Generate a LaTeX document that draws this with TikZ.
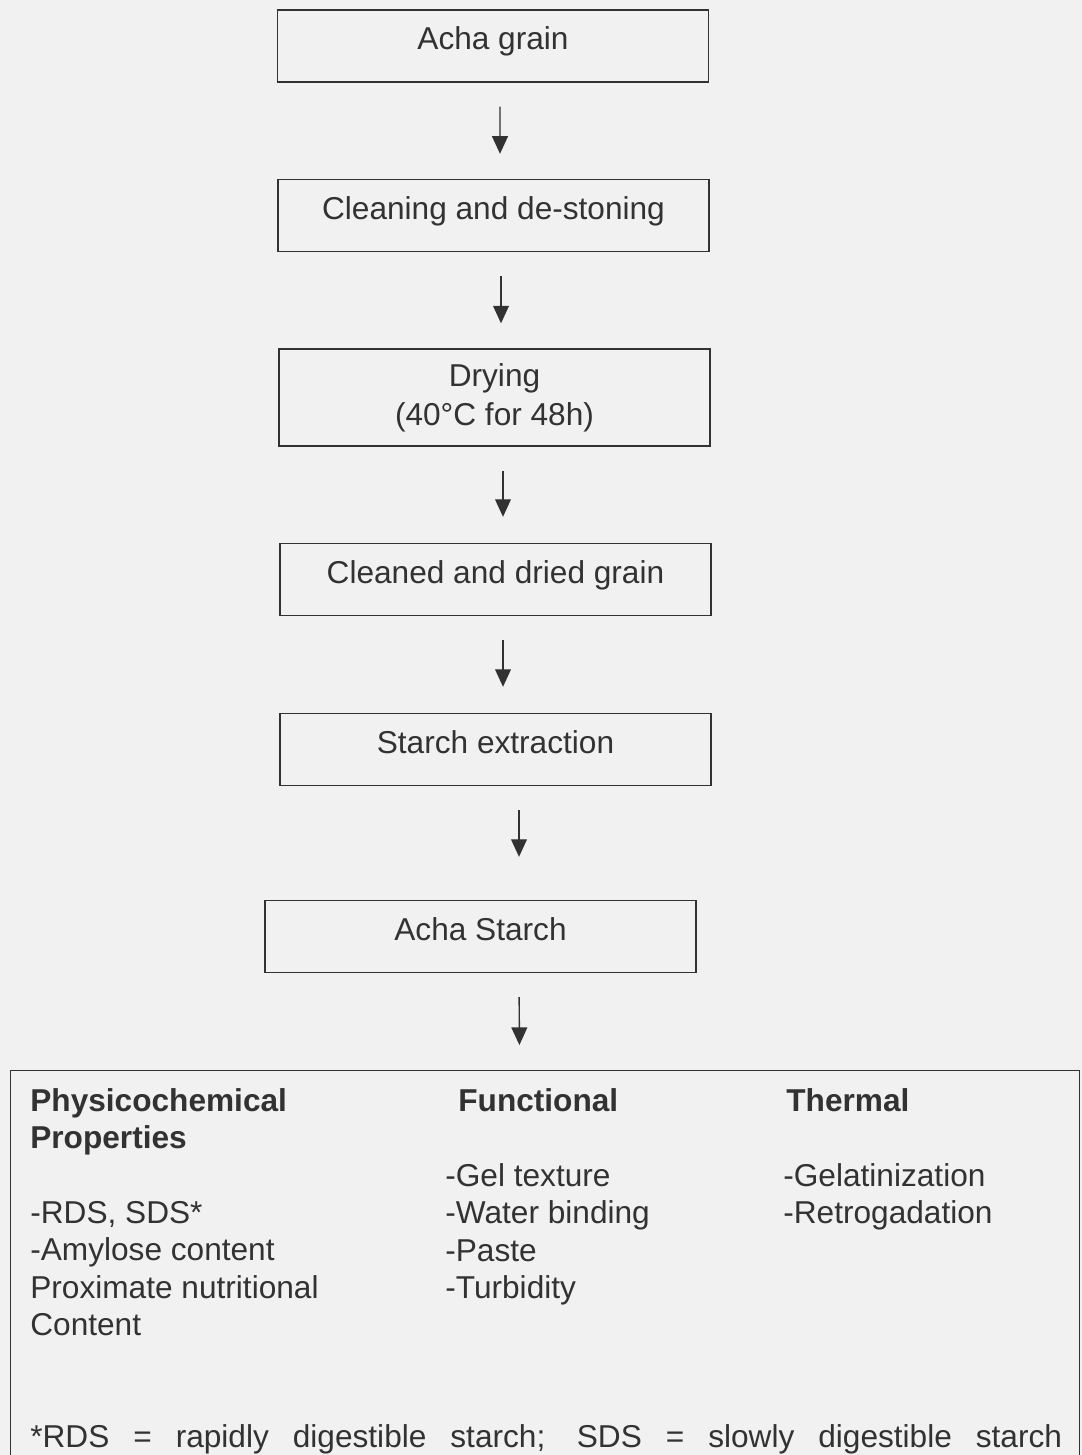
\documentclass[tikz,border=0pt]{standalone}
\usepackage{fontspec}
\setmainfont{Liberation Sans}
\usetikzlibrary{arrows.meta,calc}
\definecolor{scan}{RGB}{241,241,241}
\definecolor{ink}{RGB}{50,50,50}

\begin{document}
\begin{tikzpicture}[x=0.02cm, y=-0.02cm,
    every node/.style = {text=ink, font=\fontsize{18}{21.3}\selectfont},
    box/.style = {draw=ink, line width=0.8pt, minimum width=8.62cm, minimum height=1.44cm, inner sep=0pt},
    oneline/.style = {box, text height=0.75em, text depth=0.3em},
    flow/.style = {draw=ink, line width=0.8pt, -{Triangle[length=10pt,width=9pt]}, shorten <=0.48cm},
    item/.style = {anchor=base west, inner sep=0pt, align=left},
    head/.style = {item, font=\fontsize{18}{21.3}\selectfont\bfseries}]
  \useasboundingbox (0,0) rectangle (1082,1455);
  \fill[scan] (0,0) rectangle (1082,1455);
  \clip (0,0) rectangle (1082,1455);
  % process steps
  \node[oneline] (grain) at (493,46) {Acha grain};
  \node[oneline] (clean) at (493.5,215.5) {Cleaning and de-stoning};
  \node[box, minimum height=1.94cm, align=center, font=\fontsize{18}{22}\selectfont] (dry) at (494.5,397.5) {Drying\\(40°C for 48h)};
  \node[oneline] (dried) at (495.5,579.5) {Cleaned and dried grain};
  \node[oneline] (extract) at (495.5,749.5) {Starch extraction};
  \node[oneline] (starch) at (480.5,936.5) {Acha Starch};
  % properties box (bottom runs off the page)
  \node[draw=ink, line width=0.8pt, minimum width=21.38cm, minimum height=8.4cm, anchor=north west] (props) at (10,1070) {};
  \node[head] (physhead) at (30,1148.5) {Physicochemical\\Properties};
  \node[item] (physlist) at (30,1335.5) {-RDS, SDS*\\-Amylose content\\Proximate nutritional\\Content};
  \node[head] (funchead) at (458,1111) {Functional};
  \node[item] (funclist) at (445,1298.5) {-Gel texture\\-Water binding\\-Paste\\-Turbidity};
  \node[head] (thermhead) at (786,1111) {Thermal};
  \node[item] (thermlist) at (783,1223.5) {-Gelatinization\\-Retrogadation};
  \node[item] (note) at (30,1447) {\makebox[20.64cm][s]{*RDS = rapidly digestible starch; SDS = slowly digestible starch}};
  % arrows
  \foreach \a/\b/\da/\db/\s in {grain/clean/7/6.5/0.5, clean/dry/7.5/6.5/0.5, dry/dried/8.5/7.5/0.52,
      dried/extract/7.5/7.5/0.52, extract/starch/23.5/38.5/0.86, starch/props/38.5/-25.5/0.5}
    \draw[flow, shorten >=\s cm] ($(\a.south)+(\da,0)$) -- ($(\b.north)+(\db,0)$);
\end{tikzpicture}
\end{document}
